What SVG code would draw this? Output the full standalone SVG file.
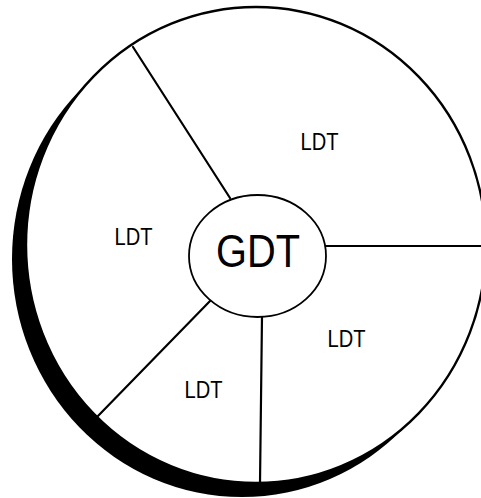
<svg xmlns="http://www.w3.org/2000/svg" width="481" height="498" viewBox="0 0 481 498">
  <style>
    .ln { stroke: #000; stroke-width: 2.2; fill: none; stroke-linecap: round; }
    .ldt { font-family: "Liberation Sans", Arial, sans-serif; font-size: 23.5px; fill: #000; text-anchor: middle; }
    .gdt { font-family: "Liberation Sans", Arial, sans-serif; font-size: 47px; fill: #000; text-anchor: middle; }
  </style>
  <rect width="481" height="498" fill="#fff"/>
  <g id="outer-circle">
    <ellipse cx="242" cy="259" rx="230" ry="238" fill="#000"/>
    <ellipse cx="256" cy="245" rx="230" ry="238" fill="#fff" stroke="#000" stroke-width="2.4"/>
  </g>
  <g id="connectors">
    <line class="ln" x1="133" y1="47" x2="230" y2="198"/>
    <line class="ln" x1="325" y1="246" x2="487" y2="246"/>
    <line class="ln" x1="262" y1="316" x2="260" y2="483"/>
    <line class="ln" x1="211" y1="300" x2="97" y2="417"/>
  </g>
  <g id="gdt">
    <ellipse cx="257.5" cy="256" rx="68.5" ry="61" fill="#fff" stroke="#000" stroke-width="1.8"/>
    <text class="gdt" x="258" y="267" textLength="84" lengthAdjust="spacingAndGlyphs">GDT</text>
  </g>
  <g id="ldt-top">
    <text class="ldt" x="319.5" y="150" textLength="38" lengthAdjust="spacingAndGlyphs">LDT</text>
  </g>
  <g id="ldt-left">
    <text class="ldt" x="133.5" y="245" textLength="38" lengthAdjust="spacingAndGlyphs">LDT</text>
  </g>
  <g id="ldt-right">
    <text class="ldt" x="346.5" y="347" textLength="38" lengthAdjust="spacingAndGlyphs">LDT</text>
  </g>
  <g id="ldt-bottom">
    <text class="ldt" x="203.5" y="398" textLength="38" lengthAdjust="spacingAndGlyphs">LDT</text>
  </g>
</svg>
